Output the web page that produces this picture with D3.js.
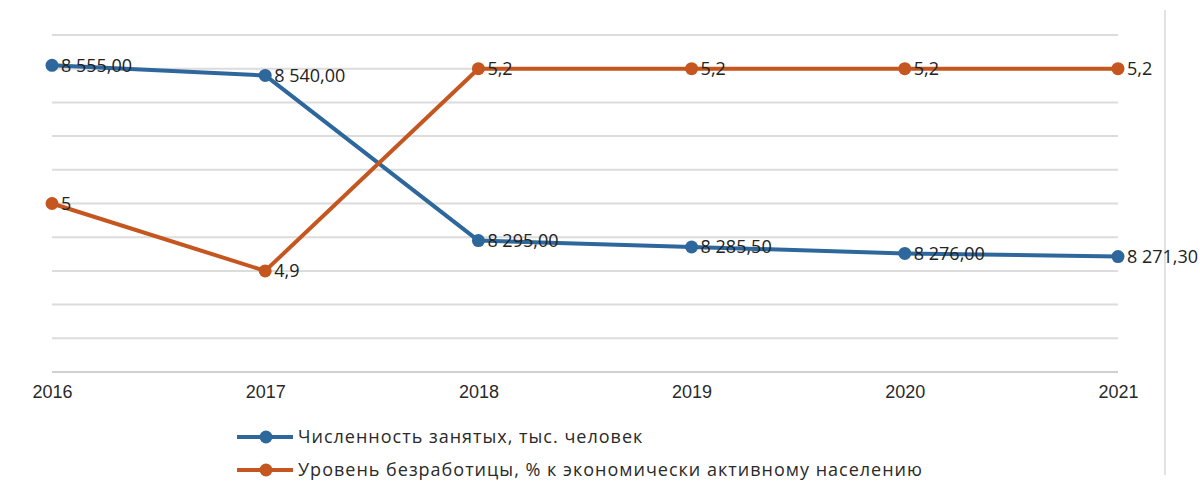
<!DOCTYPE html>
<html>
<head>
<meta charset="utf-8">
<script src="https://cdn.jsdelivr.net/npm/d3@7"></script>
<style>
  body { margin: 0; background: #fff; }
  svg { font-family: "Open Sans", "Liberation Sans", sans-serif; }
</style>
</head>
<body>
<svg id="chart" width="1200" height="499"></svg>
<script>
// data
var years = ["2016", "2017", "2018", "2019", "2020", "2021"];
var employed = [8555.00, 8540.00, 8295.00, 8285.50, 8276.00, 8271.30];
var unemployment = [5.0, 4.9, 5.2, 5.2, 5.2, 5.2];
var employedLabels = ["8 555,00", "8 540,00", "8 295,00", "8 285,50", "8 276,00", "8 271,30"];
var unemploymentLabels = ["5", "4,9", "5,2", "5,2", "5,2", "5,2"];
var seriesNames = ["Численность занятых, тыс. человек",
                   "Уровень безработицы, % к экономически активному населению"];
var blue = "#2d679c", orange = "#c5561f";

var svg = d3.select("#chart");

var x = d3.scalePoint().domain(years).range([52, 1118]);
var y1 = d3.scaleLinear().domain([8100, 8600]).range([372, 35]);
var y2 = d3.scaleLinear().domain([4.75, 5.25]).range([372, 35]);

// right border line
svg.append("line")
   .attr("x1", 1165).attr("x2", 1165)
   .attr("y1", 10).attr("y2", 475)
   .attr("stroke", "#e2e2e2").attr("stroke-width", 2);

// gridlines
var grid = svg.append("g").attr("class", "grid");
grid.selectAll("line")
    .data(d3.range(8100, 8601, 50))
    .enter().append("line")
    .attr("x1", 52).attr("x2", 1118)
    .attr("y1", function(d){ return y1(d); })
    .attr("y2", function(d){ return y1(d); })
    .attr("stroke", function(d){ return d === 8100 ? "#cfcfcf" : "#dcdcdc"; })
    .attr("stroke-width", 2);

// x axis labels
var xAxis = d3.axisBottom(x).tickSize(0).tickPadding(0);
var gx = svg.append("g").attr("transform", "translate(0,382)").call(xAxis);
gx.select(".domain").remove();
gx.selectAll("text")
  .attr("dy", "0.9em")
  .style("font-size", "18px")
  .style("fill", "#2a2a2a");

function drawSeries(values, yScale, color, labels) {
    var line = d3.line()
        .x(function(d, i){ return x(years[i]); })
        .y(function(d){ return yScale(d); });
    var g = svg.append("g");
    g.append("path")
     .datum(values)
     .attr("d", line)
     .attr("fill", "none")
     .attr("stroke", color)
     .attr("stroke-width", 4)
     .attr("stroke-linejoin", "round");
    g.selectAll("circle")
     .data(values)
     .enter().append("circle")
     .attr("cx", function(d, i){ return x(years[i]); })
     .attr("cy", function(d){ return yScale(d); })
     .attr("r", 6.5)
     .attr("fill", color);
    g.selectAll("text")
     .data(values)
     .enter().append("text")
     .attr("x", function(d, i){ return x(years[i]) + 9; })
     .attr("y", function(d){ return yScale(d); })
     .attr("dy", "0.35em")
     .style("font-size", "18px")
     .style("fill", "#222")
     .text(function(d, i){ return labels[i]; });
}

drawSeries(employed, y1, blue, employedLabels);
drawSeries(unemployment, y2, orange, unemploymentLabels);

// legend
var legend = svg.append("g");
var items = legend.selectAll("g")
    .data(seriesNames)
    .enter().append("g")
    .attr("transform", function(d, i){ return "translate(237," + (437 + i * 33) + ")"; });
items.append("line")
     .attr("x1", 0).attr("x2", 56)
     .attr("stroke", function(d, i){ return i === 0 ? blue : orange; })
     .attr("stroke-width", 4);
items.append("circle")
     .attr("cx", 29).attr("r", 6.5)
     .attr("fill", function(d, i){ return i === 0 ? blue : orange; });
items.append("text")
     .attr("x", 61).attr("dy", "0.35em")
     .style("font-size", "18px")
     .style("letter-spacing", "1px")
     .style("fill", "#2a2a2a")
     .text(function(d){ return d; });
</script>
</body>
</html>
